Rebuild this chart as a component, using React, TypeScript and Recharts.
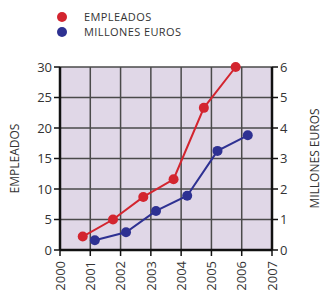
import React from 'react';
import { LineChart, Line, XAxis, YAxis, CartesianGrid } from 'recharts';

const years = [2000, 2001, 2002, 2003, 2004, 2005, 2006, 2007];
const leftTicks = [0, 5, 10, 15, 20, 25, 30];
const rightTicks = [0, 1, 2, 3, 4, 5, 6];

const empleadosYear = [2000.75, 2001.75, 2002.75, 2003.75, 2004.75, 2005.8];
const empleados = [2.2, 5.0, 8.7, 11.6, 23.3, 30];
const millonesYear = [2001.15, 2002.18, 2003.17, 2004.2, 2005.2, 2006.2];
const millones = [0.32, 0.58, 1.28, 1.78, 3.25, 3.76];

const legendItems = [
  { color: '#d3252f', label: 'EMPLEADOS' },
  { color: '#2e3192', label: 'MILLONES EUROS' },
];

const RED = legendItems[0].color;
const BLUE = legendItems[1].color;
const FONT = '"Open Sans", sans-serif';
const TEXT = '#333';

const empData = empleadosYear.map((x, i) => ({ x, y: empleados[i] }));
const milData = millonesYear.map((x, i) => ({ x, y: millones[i] }));

const XTick = (props: any) => {
  const { x, y, payload } = props;
  const yy = y + 3;
  return (
    <text x={x} y={yy} transform={`rotate(-90, ${x}, ${yy})`} textAnchor="end" dy="0.36em"
      fontSize={13} fontFamily={FONT} fill={TEXT}>
      {payload.value}
    </text>
  );
};

export default function App() {
  return (
    <div style={{ position: 'absolute', left: 0, top: 0, width: 327, height: 307, background: '#fff' }}>
      <div style={{ position: 'absolute', left: 57, top: 9, fontFamily: FONT, fontSize: 11, letterSpacing: 0.4, color: TEXT }}>
        {legendItems.map((e) => (
          <div key={e.label} style={{ display: 'flex', alignItems: 'center', height: 15 }}>
            <span style={{ display: 'inline-block', width: 10, height: 10, borderRadius: 5, background: e.color, marginRight: 17 }} />
            <span style={{ lineHeight: '15px' }}>{e.label}</span>
          </div>
        ))}
      </div>
      <LineChart width={327} height={307} margin={{ top: 67, right: 0, bottom: 0, left: 0 }}>
        <CartesianGrid yAxisId="left" fill="#e0d7e7" stroke="#4a4a4a" strokeWidth={1.5} />
        <XAxis dataKey="x" type="number" domain={[2000, 2007]} ticks={years} allowDuplicatedCategory={false}
          height={57} tick={<XTick />} interval={0} axisLine={{ stroke: '#111', strokeWidth: 2.5 }}
          tickLine={{ stroke: '#111', strokeWidth: 1.5 }} tickSize={6} />
        <YAxis yAxisId="left" domain={[0, 30]} ticks={leftTicks} width={60} interval={0}
          tick={{ fontSize: 13, fontFamily: FONT, fill: TEXT }}
          axisLine={{ stroke: '#111', strokeWidth: 2.5 }} tickLine={{ stroke: '#111', strokeWidth: 1.5 }} tickSize={6}
          label={{ value: 'EMPLEADOS', angle: -90, position: 'insideLeft', offset: 15, fontSize: 12, fontFamily: FONT, fill: TEXT, style: { textAnchor: 'middle' } }} />
        <YAxis yAxisId="right" orientation="right" domain={[0, 6]} ticks={rightTicks} width={55} interval={0}
          tick={{ fontSize: 13, fontFamily: FONT, fill: TEXT }}
          axisLine={{ stroke: '#111', strokeWidth: 2.5 }} tickLine={{ stroke: '#111', strokeWidth: 1.5 }} tickSize={6}
          label={{ value: 'MILLONES EUROS', angle: -90, position: 'insideRight', offset: 12, fontSize: 12, fontFamily: FONT, fill: TEXT, style: { textAnchor: 'middle' } }} />
        <Line yAxisId="left" data={empData} dataKey="y" stroke={RED} strokeWidth={2}
          dot={{ r: 5, fill: RED, stroke: RED, strokeWidth: 0 }} isAnimationActive={false} />
        <Line yAxisId="right" data={milData} dataKey="y" stroke={BLUE} strokeWidth={2}
          dot={{ r: 5, fill: BLUE, stroke: BLUE, strokeWidth: 0 }} isAnimationActive={false} />
      </LineChart>
    </div>
  );
}
